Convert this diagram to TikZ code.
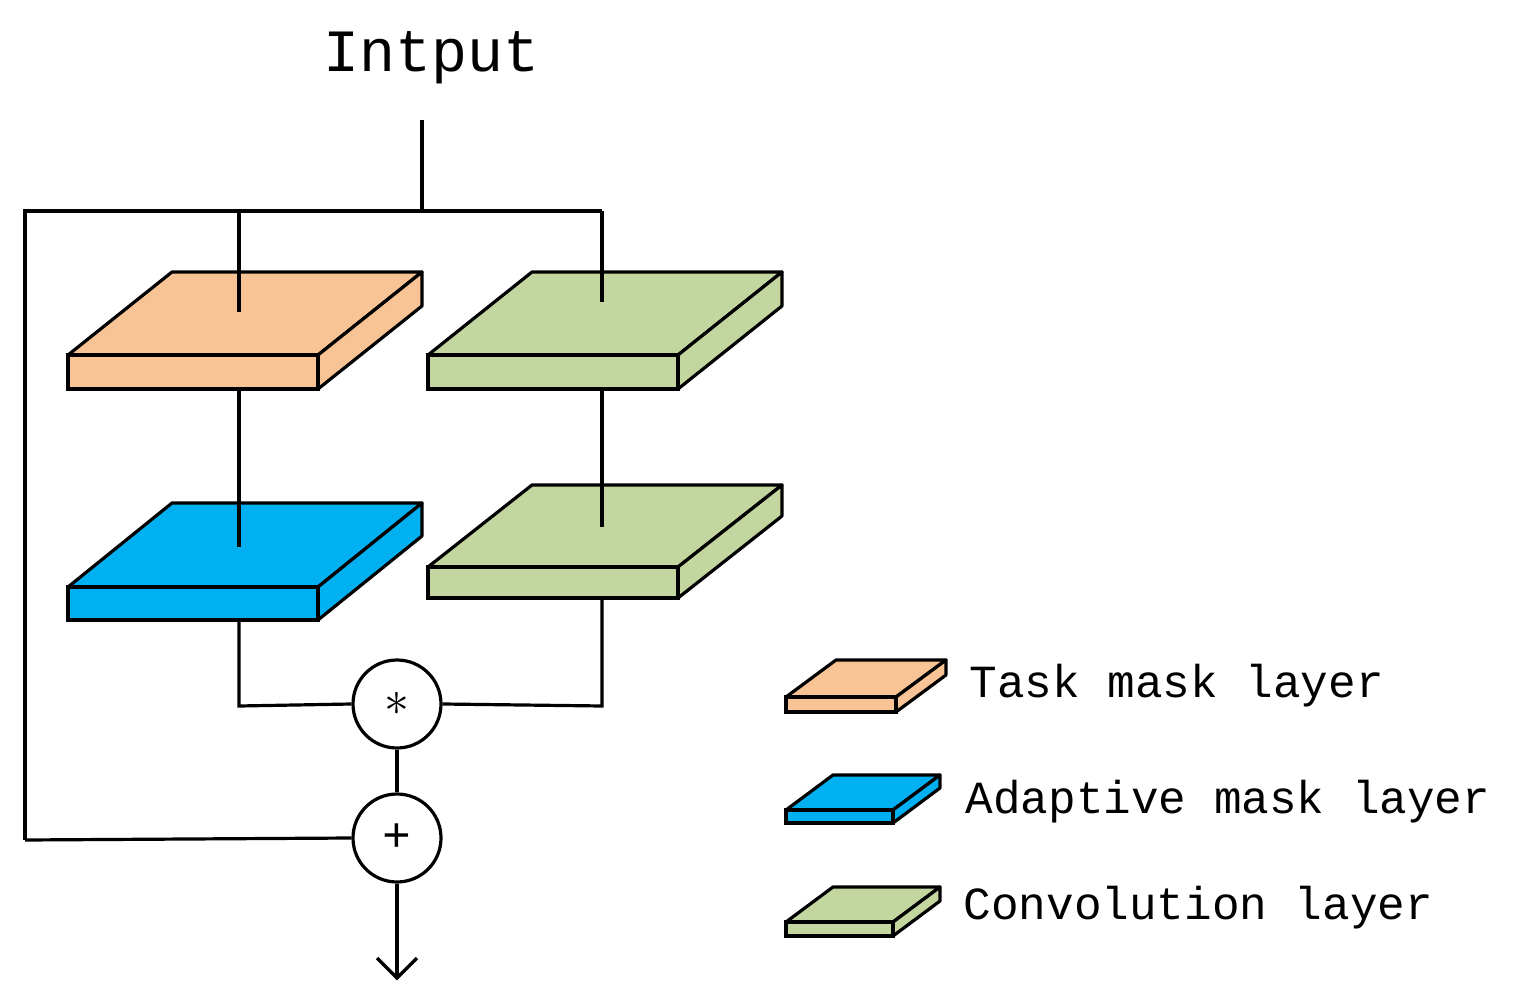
\documentclass[tikz,border=0pt]{standalone}
\usepackage{fontspec}
\setmainfont{Liberation Mono}
\definecolor{org}{HTML}{F8C496}
\definecolor{blu}{HTML}{00B0F0}
\definecolor{grn}{HTML}{C4D6A0}
\begin{document}
\begin{tikzpicture}[x=0.5pt,y=-0.5pt,line width=1.6pt,
  lbl/.style={font=\fontsize{23}{26}\selectfont,anchor=west,inner sep=0},
  op/.style={circle,draw,fill=white,minimum size=44pt,inner sep=0,font=\fontsize{24}{26}\selectfont}]
\useasboundingbox (0,0) rectangle (1515,1005);
% slab macro: front x1,x2, ytop, ybot, back offset dx, dy
\newcommand\slab[7]{%
 \draw[fill=#7,line join=round] (#1,#3) -- (#1+#5,#3-#6) -- (#2+#5,#3-#6) -- (#2,#3) -- cycle;
 \draw[fill=#7,line join=round] (#2,#3) -- (#2+#5,#3-#6) -- (#2+#5,#4-#6) -- (#2,#4) -- cycle;
 \draw[fill=#7] (#1,#3) rectangle (#2,#4);}
\node[font=\fontsize{30}{34}\selectfont,inner sep=0] (in) at (432,58) {Intput};
\coordinate (top) at (422,120);
\coordinate (j) at (422,211);
\coordinate (l) at (25,211);
\coordinate (r) at (602,211);
\draw (top) -- (j) -- (l) -- (25,840);
\draw (j) -- (r);
\slab{68}{318}{355}{389}{104}{83}{org}
\slab{428}{678}{355}{389}{104}{83}{grn}
\slab{68}{318}{587}{620}{104}{84}{blu}
\slab{428}{678}{567}{598}{104}{82}{grn}
\draw (239,211) -- (239,312);
\draw (602,211) -- (602,302);
\draw (239,389) -- (239,547);
\draw (602,389) -- (602,527);
\node[op] (m) at (397,704) {$\ast$};
\node[op] (p) at (397,838) {+};
\draw (239,620) -- (239,706) -- (m.west);
\draw (602,598) -- (602,706) -- (m.east);
\draw (m) -- (p);
\draw (25,840) -- (p.west);
\coordinate (out) at (397,978);
\draw (p) -- (out);
\draw (377,958) -- (out) -- (417,958);
% legend
\slab{786}{896}{697}{712}{50}{37}{org}
\slab{786}{893}{810}{823}{47}{35}{blu}
\slab{786}{893}{922}{936}{47}{35}{grn}
\node[lbl] (t1) at (968,686) {Task mask layer};
\node[lbl] (t2) at (964,802) {Adaptive mask layer};
\node[lbl] (t3) at (962,908) {Convolution layer};
\end{tikzpicture}
\end{document}
